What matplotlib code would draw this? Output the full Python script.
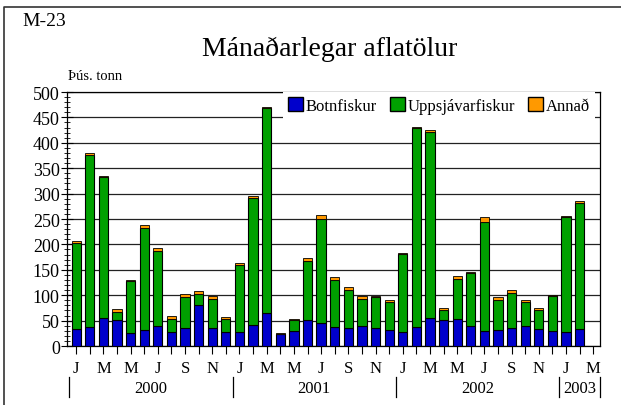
import numpy as np
import matplotlib
matplotlib.use("Agg")
import matplotlib.pyplot as plt
from matplotlib.patches import Patch
from matplotlib.lines import Line2D
import matplotlib.transforms as mtransforms

plt.rcParams['font.family'] = ['Liberation Serif', 'DejaVu Serif']

# monthly catch, thousand tonnes, Jan 2000 - Feb 2003
botn = [34, 37, 56, 52, 26, 31, 40, 27, 36, 81, 35, 28,
        28, 41, 64, 23, 30, 51, 45, 37, 36, 39, 36, 32,
        28, 37, 56, 52, 54, 40, 30, 32, 36, 40, 34, 30,
        27, 34]
uppsj = [169, 339, 276, 14, 102, 202, 148, 27, 61, 22, 57, 26,
         132, 251, 404, 1, 22, 117, 206, 93, 75, 54, 60, 55,
         154, 392, 366, 18, 77, 103, 215, 58, 69, 47, 36, 68,
         226, 248]
annad = [3, 4, 3, 6, 2, 4.5, 4.5, 5, 6, 4.5, 6, 3,
         3, 3, 3, 2, 2, 4.5, 6.5, 6, 5, 5, 3, 4,
         2, 2, 4, 4.5, 6, 2, 8, 6.5, 5, 4, 4, 2.5,
         2.5, 2.5]

month_lbl = ['J', 'M', 'M', 'J', 'S', 'N']
years = ['2000', '2001', '2002', '2003']
year_sep = [-0.5, 11.5, 23.5, 35.5, 38.5]
year_mid = [5.5, 17.5, 29.5, 37]

blue = '#0000CC'
green = '#00A000'
orange = '#FF9900'

fig = plt.figure(figsize=(6.21, 4.06), dpi=100)
ax = fig.add_axes([0.1074, 0.1453, 0.8588, 0.6256])

x = np.arange(len(botn))
b = np.array(botn)
u = np.array(uppsj)
a = np.array(annad)
w = 0.68
ax.bar(x, b, w, color=blue, edgecolor='black', linewidth=0.8, zorder=3)
ax.bar(x, u, w, bottom=b, color=green, edgecolor='black', linewidth=0.8, zorder=3)
ax.bar(x, a, w, bottom=b + u, color=orange, edgecolor='black', linewidth=0.6, zorder=3)

ax.set_xlim(-0.7, 38.5)
ax.set_ylim(0, 500)
ax.set_yticks(np.arange(0, 501, 50))
ax.set_yticks(np.arange(0, 501, 10), minor=True)
ax.yaxis.grid(True, color='#222222', linewidth=0.9, zorder=0)
ax.set_axisbelow(True)
ax.tick_params(axis='y', which='major', direction='inout', length=8, width=0.8, labelsize=13, pad=1)
ax.tick_params(axis='y', which='minor', direction='inout', length=4, width=0.6)

ticks = np.arange(39)
labels = []
for i in ticks:
    if i % 2 == 0:
        labels.append(month_lbl[(i % 12) // 2])
    else:
        labels.append('')
ax.set_xticks(ticks)
ax.set_xticklabels(labels)
ax.tick_params(axis='x', direction='out', length=6, width=0.8, labelsize=12, pad=4)

for s in ax.spines.values():
    s.set_linewidth(0.9)

trans = mtransforms.blended_transform_factory(ax.transData, ax.transAxes)
for xs in year_sep:
    ax.plot([xs, xs], [-0.122, -0.2], color='black', linewidth=0.9,
            transform=trans, clip_on=False)
for xm, yr in zip(year_mid, years):
    ax.text(xm, -0.165, yr, transform=trans, ha='center', va='center', fontsize=12)

handles = [Patch(facecolor=blue, edgecolor='black', label='Botnfiskur'),
           Patch(facecolor=green, edgecolor='black', label='Uppsjávarfiskur'),
           Patch(facecolor=orange, edgecolor='black', label='Annað')]
leg = ax.legend(handles=handles, ncol=3, loc='upper right', bbox_to_anchor=(0.99, 1.0),
                frameon=True, fancybox=False, edgecolor='none', facecolor='white',
                framealpha=1, fontsize=12, handlelength=0.9, handleheight=0.9,
                handletextpad=0.15, columnspacing=0.8, borderpad=0.3, borderaxespad=0)
leg.set_zorder(5)

fig.text(22 / 621, 1 - 21 / 406, 'M-23', fontsize=14, ha='left', va='center')
fig.text(330 / 621, 1 - 49 / 406, 'Mánaðarlegar aflatölur', fontsize=20, ha='center', va='center')
fig.text(68 / 621, 1 - 77 / 406, 'Þús. tonn', fontsize=10.5, ha='left', va='center')

# outer frame (top and left)
fig.add_artist(Line2D([4 / 621, 4 / 621, 1], [0, 1 - 8 / 406, 1 - 8 / 406],
                      transform=fig.transFigure, color='#333333', linewidth=1.2))

fig.savefig('out.png', dpi=100)
